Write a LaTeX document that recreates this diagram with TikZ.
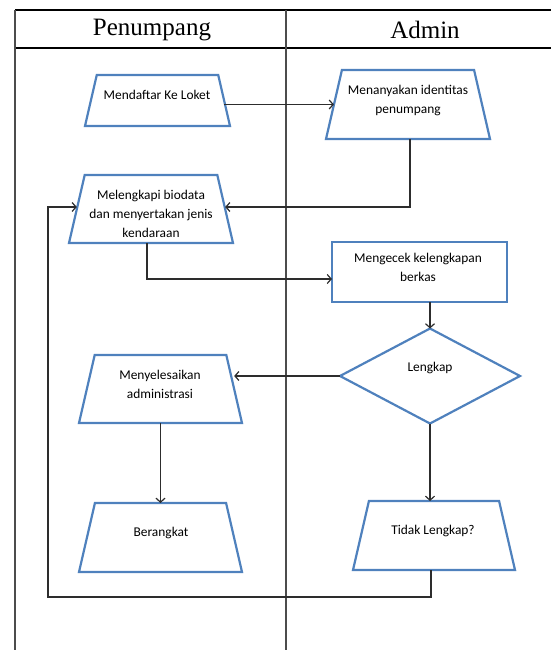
\documentclass[tikz,border=0pt]{standalone}
\usepackage{fontspec}
\setmainfont{Liberation Serif}
\newfontfamily\boxfont{Carlito}
\usetikzlibrary{shapes.geometric,arrows.meta}
\definecolor{shapeblue}{RGB}{79,129,189}
\definecolor{linegray}{RGB}{45,45,45}
\tikzset{
  trap/.style={trapezium, trapezium angle=77, trapezium stretches body, draw=shapeblue, line width=2.2pt, inner sep=0pt, outer sep=0pt},
  boxr/.style={rectangle, draw=shapeblue, line width=2.2pt, inner sep=0pt, outer sep=0pt},
  dec/.style={diamond, aspect=1.9, draw=shapeblue, line width=2.2pt, inner sep=0pt, outer sep=0pt},
  txt/.style={font=\boxfont\fontsize{13.4}{19}\selectfont, align=center, inner sep=0pt},
  hdr/.style={font=\fontsize{25}{28}\selectfont, inner sep=0pt},
  arr/.style={draw=linegray, line width=1.2pt, -{Straight Barb[length=4pt,width=9pt]}},
  tbl/.style={draw=black, line width=1.3pt}
}
\newcommand{\trh}[1]{\rule{0pt}{#1pt}}
\begin{document}
\begin{tikzpicture}[x=1pt,y=-1pt]
\useasboundingbox (0,0) rectangle (551,650);
% table
\draw[tbl] (15,10) -- (551,10);
\draw[tbl] (15,48) -- (551,48);
\draw[tbl, draw=black!70] (15,10) -- (15,650);
\draw[tbl, draw=black!70] (286,10) -- (286,650);
\node[hdr] (h1) at (152,30) {Penumpang};
\node[hdr] (h2) at (425,30) {Admin};
% shapes
\node[trap, minimum width=145pt] (m1) at (157.5,100.5) {\trh{51}};
\node[trap, minimum width=164pt] (a1) at (408,104.5) {\trh{69}};
\node[trap, minimum width=164pt] (m2) at (151,209) {\trh{68}};
\node[boxr, minimum width=175pt, minimum height=60pt] (a2) at (419.5,272) {};
\node[dec, minimum width=180pt, minimum height=95pt] (d) at (430,376) {};
\node[trap, minimum width=163pt] (m3) at (160.5,389) {\trh{68}};
\node[trap, minimum width=163pt] (m4) at (160.5,537.5) {\trh{69}};
\node[trap, minimum width=162pt] (a3) at (434,535.5) {\trh{69}};
% texts
\node[txt] (m1t) at (157,95) {Mendaftar Ke Loket};
\node[txt] (a1t) at (408,100.5) {Menanyakan identitas\\penumpang};
\node[txt] (m2t) at (151,214) {Melengkapi biodata\\dan menyertakan jenis\\kendaraan};
\node[txt] (a2t) at (418,267.5) {Mengecek kelengkapan\\berkas};
\node[txt] (dt) at (430,368) {Lengkap};
\node[txt] (m3t) at (160,384) {Menyelesaikan\\administrasi};
\node[txt] (m4t) at (161,533) {Berangkat};
\node[txt] (a3t) at (433,531) {Tidak Lengkap?};
% connectors
\draw[arr] (m1.east |- a1.west) -- (a1.west);
\draw[arr] ([xshift=2pt]a1.south) |- ([yshift=2pt]m2.east);
\draw[arr] ([xshift=-4pt]m2.south) |- ([yshift=-7pt]a2.west);
\draw[arr] (a2.south -| d.north) -- (d.north);
\draw[arr] (d.west) -- (d.west -| m3.east);
\draw[arr] (m3.south) -- (m4.north);
\draw[arr] (d.south) -- (d.south |- a3.north);
\coordinate (lp) at (48,597);
\draw[arr] ([xshift=-3pt]a3.south) |- (lp) |- ([yshift=2pt]m2.west);
\end{tikzpicture}
\end{document}
